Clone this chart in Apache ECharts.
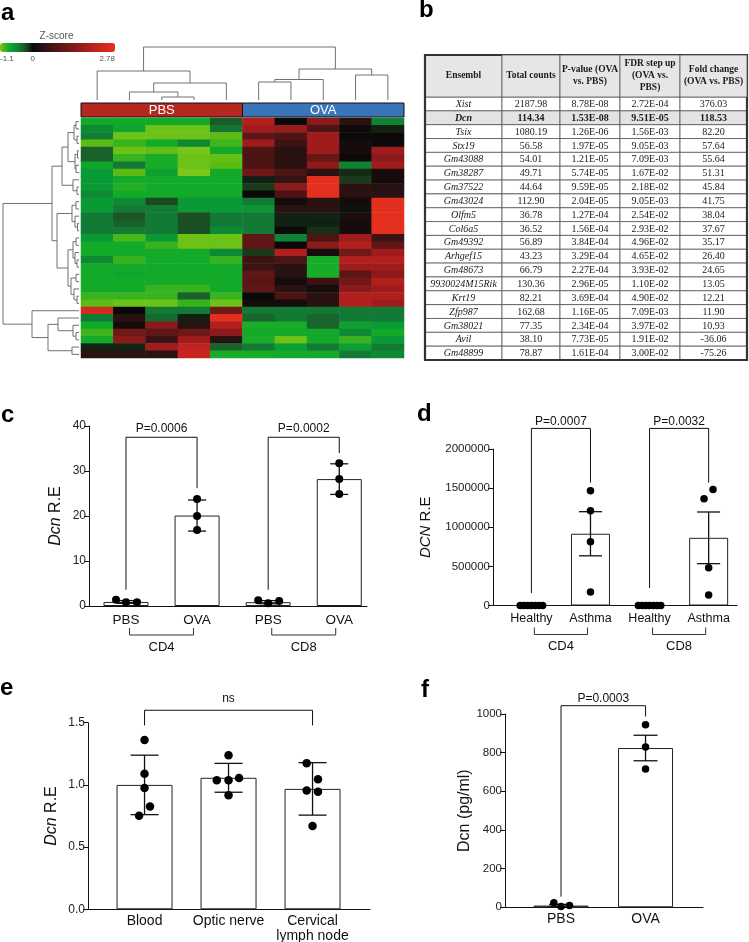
<!DOCTYPE html>
<html><head><meta charset="utf-8">
<script src="https://cdn.jsdelivr.net/npm/echarts@6/dist/echarts.min.js"></script>
<style>html,body{margin:0;padding:0;background:#fff}#c{width:749px;height:942px}</style>
</head><body><div id="c"></div>
<script>
// ===================== DATA =====================
// Panel a – heatmap
const zMin = -1.1, zMax = 2.78;
const zTicks = [-1.1, 0, 2.78];
const zTickLabels = ['-1.1', '0', '2.78'];
const heatGroups = ['PBS', 'OVA'];
const heatGroupSizes = [5, 5];
const sampleNames = ['PBS1','PBS2','PBS3','PBS4','PBS5','OVA1','OVA2','OVA3','OVA4','OVA5'];
const zScores = [
  [-0.8,-0.8,-0.8,-0.8,-0.3, 2.0,0.02,1.5,0.35,-0.5],
  [-0.55,-0.75,-1.05,-1.05,-0.42, 1.75,1.7,0.75,0.08,-0.07],
  [-0.47,-1.05,-1.05,-1.05,-1.0, 0.95,0.8,1.75,0.03,0.02],
  [-1.0,-0.9,-0.8,-0.55,-0.92, 1.75,0.55,1.75,0.15,0.03],
  [-0.33,-1.05,-1.02,-1.08,-0.8, 0.75,0.35,1.75,0.15,1.75],
  [-0.33,-0.9,-0.82,-1.05,-1.03, 0.72,0.35,1.05,0.05,1.5],
  [-0.75,-0.45,-0.82,-1.05,-1.0, 0.75,0.35,1.55,-0.5,1.75],
  [-0.65,-1.0,-0.72,-1.1,-0.8, 1.15,0.75,0.35,-0.1,0.15],
  [-0.65,-0.8,-0.8,-0.8,-0.8, -0.07,0.45,2.7,-0.15,0.12],
  [-0.65,-0.85,-0.8,-0.8,-0.8, -0.15,1.5,2.75,0.35,0.3],
  [-0.55,-0.8,-0.8,-0.8,-0.8, 0.0,0.75,2.7,0.35,0.35],
  [-0.65,-0.55,-0.22,-0.65,-0.65, -0.45,0.15,0.35,0.12,2.7],
  [-0.65,-0.45,-0.45,-0.65,-0.65, -0.62,0.35,0.35,-0.03,2.7],
  [-0.45,-0.28,-0.45,-0.25,-0.45, -0.45,-0.07,-0.08,0.18,2.7],
  [-0.45,-0.32,-0.45,-0.25,-0.45, -0.45,-0.07,-0.07,0.15,2.75],
  [-0.45,-0.45,-0.45,-0.25,-0.55, -0.45,0.0,-0.12,0.15,2.7],
  [-0.65,-0.95,-0.65,-1.05,-1.05, 0.95,-0.5,0.75,1.75,0.55],
  [-0.8,-0.8,-0.9,-1.05,-1.05, 0.95,0.02,1.5,2.0,0.95],
  [-0.8,-0.8,-0.8,-0.8,-0.55, -0.15,2.0,0.15,1.2,1.75],
  [-0.55,-0.9,-0.8,-0.8,-0.9, 0.55,0.75,-0.82,2.0,2.0],
  [-0.8,-0.8,-0.8,-0.8,-0.8, 0.55,0.35,-0.82,1.75,1.75],
  [-0.8,-0.75,-0.8,-0.8,-0.8, 0.95,0.35,-0.82,0.95,1.5],
  [-0.8,-0.8,-0.8,-0.8,-0.8, 0.9,0.15,0.55,1.2,2.0],
  [-0.8,-0.8,-0.9,-0.9,-0.8, 0.95,0.35,0.15,1.5,1.75],
  [-0.9,-0.9,-0.9,-0.33,-0.9, 0.02,0.75,0.35,2.0,2.0],
  [-1.0,-1.05,-1.05,-0.9,-1.05, 0.15,0.15,0.35,2.0,1.75],
  [2.5,0.02,-0.45,-0.45,1.15, -0.45,-0.45,-0.45,-0.45,-0.45],
  [-0.45,0.35,-0.38,-0.07,2.7, -0.35,-0.45,-0.35,-0.45,-0.45],
  [-0.8,0.15,1.5,0.35,2.0, -0.82,-0.82,-0.35,-0.72,-0.65],
  [-0.92,1.2,0.95,1.15,1.5, -0.8,-0.8,-0.78,-0.55,-0.8],
  [-0.8,1.5,0.55,1.75,0.35, -0.82,-1.05,-0.8,-0.9,-0.65],
  [-0.08,-0.08,1.75,2.2,-0.33, -0.45,-0.7,-0.45,-0.7,-0.45],
  [0.35,0.35,0.35,2.3,-0.82, -0.82,-0.8,-0.8,-0.45,-0.55]
];
// dendrograms: [mergeHeight, left, right]; leaves are row / column indices
const rowTree = [76,
  [27,
    [17, [11, [5, [3, 0, 1], [2, 2, 3]], [4, [1.5, 4, 5], [3, 6, 7]]], [6, 8, [2, 9, 10]]],
    [22, [7, [3, 11, 12], [4, 13, [1.5, 14, 15]]],
         [11, [6, [3, 16, 17], [4, 18, [2, 19, 20]]], [8, [3, 21, 22], [5, 23, [2, 24, 25]]]]]],
  [47, 26, [31, [21, 27, [6, 28, [3, 29, 30]]], [7, 31, 32]]]];
const colTree = [53, [29, 0, [17, [8, 1, [3, 2, 3]], 4]], [31, [20.5, [18, 5, 6], 7], [25, 8, 9]]];

// Panel b – table
const tableHeader = ['Ensembl', 'Total counts', 'P-value (OVA\nvs. PBS)', 'FDR step up\n(OVA vs.\nPBS)', 'Fold change\n(OVA vs. PBS)'];
const genes = ['Xist','Dcn','Tsix','Stx19','Gm43088','Gm38287','Gm37522','Gm43024','Olfm5','Col6a5','Gm49392','Arhgef15','Gm48673','9930024M15Rik','Krt19','Zfp987','Gm38021','Avil','Gm48899'];
const totalCounts = [2187.98,114.34,1080.19,56.58,54.01,49.71,44.64,112.90,36.78,36.52,56.89,43.23,66.79,130.36,82.21,162.68,77.35,38.10,78.87];
const pValues = ['8.78E-08','1.53E-08','1.26E-06','1.97E-05','1.21E-05','5.74E-05','9.59E-05','2.04E-05','1.27E-04','1.56E-04','3.84E-04','3.29E-04','2.27E-04','2.96E-05','3.69E-04','1.16E-05','2.34E-04','7.73E-05','1.61E-04'];
const fdrValues = ['2.72E-04','9.51E-05','1.56E-03','9.05E-03','7.09E-03','1.67E-02','2.18E-02','9.05E-03','2.54E-02','2.93E-02','4.96E-02','4.65E-02','3.93E-02','1.10E-02','4.90E-02','7.09E-03','3.97E-02','1.91E-02','3.00E-02'];
const foldChange = [376.03,118.53,82.20,57.64,55.64,51.31,45.84,41.75,38.04,37.67,35.17,26.40,24.65,13.05,12.21,11.90,10.93,-36.06,-75.26];
const highlightGene = 'Dcn';

// Panel c
const cCats = ['PBS','OVA','PBS','OVA'];
const cGroups = ['CD4','CD8'];
const cMeans = [0.9, 20.1, 0.85, 28.2];
const cErr = [0.3, 3.45, 0.35, 3.4];
const cPtCat = [0,0,0, 1,1,1, 2,2,2, 3,3,3];
const cPtOff = [-0.14,0,0.155, 0,0,0, -0.14,0,0.155, 0,0,0];
const cPtVal = [1.4,0.85,0.85, 23.8,20.0,16.9, 1.3,0.6,1.1, 31.7,28.2,24.9];
const cSigText = ['P=0.0006','P=0.0002'];
const cSig = [[0,1,37.5,3.6,26.2],[2,3,37.5,3.6,34]]; // [cat1, cat2, top, end1, end2]

// Panel d
const dCats = ['Healthy','Asthma','Healthy','Asthma'];
const dGroups = ['CD4','CD8'];
const dMeans = [0, 917000, 0, 865000];
const dErr = [0, 282000, 0, 330000];
const dPtCat = [0,0,0,0,0,0,0, 1,1,1,1, 2,2,2,2,2,2,2, 3,3,3,3];
const dPtOff = [-0.19,-0.127,-0.063,0,0.063,0.127,0.19, 0,0,0,0, -0.19,-0.127,-0.063,0,0.063,0.127,0.19, 0.074,-0.078,0,0];
const dPtVal = [0,0,0,0,0,0,0, 1468000,1211000,814000,173000, 0,0,0,0,0,0,0, 1481000,1365000,481000,135000];
const dSigText = ['P=0.0007','P=0.0032'];
const dSig = [[0,1,2263000,160000,1570000],[2,3,2263000,224000,1570000]];

// Panel e
const eCats = ['Blood','Optic nerve','Cervical\nlymph node'];
const eMeans = [1.0, 1.057, 0.968];
const eErr = [0.239, 0.116, 0.211];
const ePtCat = [0,0,0,0,0, 1,1,1,1,1, 2,2,2,2,2];
const ePtOff = [0,0,0,0.065,-0.065, 0,-0.14,0,0.125,0, -0.07,0.065,-0.07,0.065,0];
const ePtVal = [1.36,1.09,0.976,0.827,0.752, 1.239,1.037,1.037,1.056,0.916, 1.175,1.045,0.955,0.945,0.67];
const eSigText = ['ns'];
const eSig = [[0,2,1.60,1.478,1.478]];

// Panel f
const fCats = ['PBS','OVA'];
const fMeans = [9, 824];
const fErr = [6, 66];
const fPtCat = [0,0,0, 1,1,1];
const fPtOff = [-0.085,0,0.1, 0,0,0];
const fPtVal = [24,4,9, 944,829,715];
const fSigText = ['P=0.0003'];
const fSig = [[0,1,1043,55,987]];

// ===================== BUILD =====================
const FONT = '"Liberation Sans", Arial, sans-serif';
const SERIF = '"Liberation Serif", "Times New Roman", serif';
const INK = '#111';
const grids = [], xAxes = [], yAxes = [], series = [];
function addGrid(rect, xa, ya) {
  const i = grids.length;
  grids.push(Object.assign({ containLabel: false, outerBoundsMode: 'none' }, rect));
  xa.gridIndex = i; ya.gridIndex = i; xAxes.push(xa); yAxes.push(ya); return i;
}
function hiddenVal(min, max, inverse) {
  return { type: 'value', show: false, min: min, max: max, inverse: !!inverse, splitLine: { show: false } };
}
function txt(x, y, text, o) {
  return { type: 'text', style: Object.assign({ x: x, y: y, text: text, fill: INK, fontSize: 12, fontFamily: FONT,
    align: 'center', verticalAlign: 'middle', textAlign: 'center', textVerticalAlign: 'middle' }, o || {}) };
}
function buildLinks(node, links) {
  if (typeof node === 'number') return [node + 0.5, 0];
  const A = buildLinks(node[1], links), B = buildLinks(node[2], links);
  links.push([node[0], A[0], B[0], A[1], B[1]]);
  return [(A[0] + B[0]) / 2, node[0]];
}

// ---- colour scale (green - black - red) ----
const anchors = [[-1.1,'#7cc81a'],[-1.0,'#5cbc14'],[-0.8,'#12aa2a'],[-0.65,'#0a9a35'],[-0.45,'#127a35'],[-0.3,'#1c5a28'],[-0.15,'#1a3a1a'],[0,'#080808'],[0.35,'#2a1212'],[0.75,'#4e1414'],[1.2,'#721818'],[1.75,'#a01c1c'],[2.2,'#c02420'],[2.78,'#e8301e']];
function hex2rgb(h){return [parseInt(h.substr(1,2),16),parseInt(h.substr(3,2),16),parseInt(h.substr(5,2),16)];}
function colorAt(v){
  for (let i=0;i<anchors.length-1;i++){
    const a=anchors[i], b=anchors[i+1];
    if (v<=b[0]+1e-9){ const t=Math.max(0,Math.min(1,(v-a[0])/(b[0]-a[0]))); const A=hex2rgb(a[1]),B=hex2rgb(b[1]);
      return 'rgb('+A.map((x,k)=>Math.round(x+(B[k]-x)*t)).join(',')+')'; }
  }
  return anchors[anchors.length-1][1];
}
const NSTOP = 120; const gradColors = [];
for (let i=0;i<NSTOP;i++) gradColors.push(colorAt(zMin + (zMax - zMin) * i / (NSTOP - 1)));

// colour bar tick labels
addGrid({ left: 0, top: 43, width: 115, height: 9 },
  { type: 'value', min: zMin, max: zMax, axisLine: { show: false }, axisTick: { show: false }, splitLine: { show: false },
    axisLabel: { customValues: zTicks, fontSize: 8, color: '#555', margin: 3, fontFamily: FONT, alignMinLabel: 'left', alignMaxLabel: 'right',
      formatter: function (v) { const k = zTicks.findIndex(t => Math.abs(t - v) < 1e-6); return k >= 0 ? zTickLabels[k] : ''; } } },
  hiddenVal(0, 1));

// column dendrogram
const colLinks = []; buildLinks(colTree, colLinks);
const gCol = addGrid({ left: 81, top: 47, width: 323, height: 53 }, hiddenVal(0, 10), hiddenVal(0, 53));
series.push({ type: 'custom', xAxisIndex: gCol, yAxisIndex: gCol, data: colLinks, silent: true, clip: false,
  renderItem: function (p, api) {
    const hp = api.value(0), x1 = api.value(1), x2 = api.value(2), h1 = api.value(3), h2 = api.value(4);
    return { type: 'polyline', shape: { points: [api.coord([x1, h1]), api.coord([x1, hp]), api.coord([x2, hp]), api.coord([x2, h2])] },
      style: { stroke: '#707070', lineWidth: 1, fill: 'none' } };
  } });

// group annotation bar
const groupColors = ['#b4281f', '#3a74b9'];
const gAnn = addGrid({ left: 81, top: 103, width: 323, height: 14 }, hiddenVal(0, 10), hiddenVal(0, 1));
let acc = 0; const annData = heatGroupSizes.map(s => { const d = [acc, acc + s]; acc += s; return d; });
series.push({ type: 'custom', xAxisIndex: gAnn, yAxisIndex: gAnn, data: annData, silent: true, clip: false,
  renderItem: function (p, api) {
    const a = api.coord([api.value(0), 1]), b = api.coord([api.value(1), 0]);
    return { type: 'group', children: [
      { type: 'rect', shape: { x: a[0], y: a[1], width: b[0] - a[0], height: b[1] - a[1] }, style: { fill: groupColors[p.dataIndex], stroke: INK, lineWidth: 1 } },
      txt((a[0] + b[0]) / 2, (a[1] + b[1]) / 2 + 0.5, heatGroups[p.dataIndex], { fill: '#fff', fontSize: 13 })
    ] };
  } });

// heatmap
const rowNames = zScores.map((_, i) => 'gene' + (i + 1));
const gHeat = addGrid({ left: 81, top: 118, width: 323, height: 240 },
  { type: 'category', show: false, data: sampleNames }, { type: 'category', show: false, inverse: true, data: rowNames });
const heatData = []; zScores.forEach((row, r) => row.forEach((v, c) => heatData.push([c, r, v])));
const heatIdx = series.length;
series.push({ type: 'heatmap', xAxisIndex: gHeat, yAxisIndex: gHeat, data: heatData, silent: true, progressive: 0,
  itemStyle: { borderWidth: 0 }, emphasis: { disabled: true } });

// row dendrogram
const rowLinks = []; buildLinks(rowTree, rowLinks);
const gRow = addGrid({ left: 0, top: 118, width: 79, height: 240 }, hiddenVal(0, 79, true), hiddenVal(0, zScores.length, true));
series.push({ type: 'custom', xAxisIndex: gRow, yAxisIndex: gRow, data: rowLinks, silent: true, clip: false,
  renderItem: function (p, api) {
    const hp = api.value(0), y1 = api.value(1), y2 = api.value(2), h1 = api.value(3), h2 = api.value(4);
    return { type: 'polyline', shape: { points: [api.coord([h1, y1]), api.coord([hp, y1]), api.coord([hp, y2]), api.coord([h2, y2])] },
      style: { stroke: '#707070', lineWidth: 1, fill: 'none' } };
  } });

// ---- table (panel b) ----
const colW = [77, 58, 60, 60, 67];
const HEADER_H = 42;
function colX(cs, c) { const tot = colW.reduce((a, b) => a + b, 0); let x = cs.x; for (let i = 0; i < c; i++) x += colW[i] / tot * cs.width; return [x, colW[c] / tot * cs.width]; }
function cellText(r, c) {
  if (c === 0) return genes[r];
  if (c === 1) return totalCounts[r].toFixed(2);
  if (c === 2) return pValues[r];
  if (c === 3) return fdrValues[r];
  return foldChange[r].toFixed(2);
}
const gTab = addGrid({ left: 425, top: 97, width: 322, height: 263 },
  { type: 'category', show: false, data: tableHeader.map((_, i) => 'col' + i) }, { type: 'category', show: false, inverse: true, data: genes });
const tabData = []; genes.forEach((g, r) => tableHeader.forEach((h, c) => tabData.push([c, r])));
series.push({ type: 'custom', xAxisIndex: gTab, yAxisIndex: gTab, data: tabData, silent: true, clip: false, z: 2,
  renderItem: function (p, api) {
    const c = api.value(0), r = api.value(1), cs = p.coordSys;
    const xw = colX(cs, c); const yc = api.coord([c, r])[1]; const h = api.size([1, 1])[1];
    const hl = genes[r] === highlightGene;
    return { type: 'group', children: [
      { type: 'rect', shape: { x: xw[0], y: yc - h / 2, width: xw[1], height: h }, style: { fill: hl ? '#e3e3e3' : '#fff', stroke: '#555', lineWidth: 0.8 } },
      txt(xw[0] + xw[1] / 2, yc + 0.5, cellText(r, c), { fontFamily: SERIF, fontSize: 10, fill: '#1a1a1a',
        fontStyle: c === 0 ? 'italic' : 'normal', fontWeight: hl ? 'bold' : 'normal' })
    ] };
  } });
series.push({ type: 'custom', xAxisIndex: gTab, yAxisIndex: gTab, data: tableHeader.map((_, c) => [c, 0]), silent: true, clip: false, z: 3,
  renderItem: function (p, api) {
    const c = api.value(0), cs = p.coordSys; const xw = colX(cs, c);
    const ch = [
      { type: 'rect', shape: { x: xw[0], y: cs.y - HEADER_H, width: xw[1], height: HEADER_H }, style: { fill: '#e6e6e6', stroke: '#555', lineWidth: 0.8 } },
      txt(xw[0] + xw[1] / 2, cs.y - HEADER_H / 2, tableHeader[c], { fontFamily: SERIF, fontSize: 9.5, fontWeight: 'bold', lineHeight: 12, fill: '#1a1a1a' })
    ];
    if (p.dataIndex === 0) ch.push({ type: 'rect', shape: { x: cs.x, y: cs.y - HEADER_H, width: cs.width, height: cs.height + HEADER_H },
      style: { fill: 'none', stroke: '#333', lineWidth: 2.2 } });
    return { type: 'group', children: ch };
  } });

// ---- statistics panels ----
function statPanel(P) {
  const gi = addGrid({ left: P.left, top: P.top, width: P.width, height: P.height },
    { type: 'value', min: P.xMin, max: P.xMax,
      axisLine: { show: true, onZero: false, lineStyle: { color: INK, width: 1 } }, axisTick: { show: false }, splitLine: { show: false },
      axisLabel: { customValues: P.cats.map((_, i) => i), formatter: function (v) { return P.cats[Math.round(v)]; },
        fontSize: P.xFont, color: INK, margin: P.xMargin, fontFamily: FONT, lineHeight: P.xFont + 0.5 } },
    { type: 'value', min: P.yMin, max: P.yMax, interval: P.yInt,
      axisLine: { show: true, onZero: false, lineStyle: { color: INK, width: 1 } },
      axisTick: { show: true, length: 5, lineStyle: { color: INK, width: 1 } }, splitLine: { show: false },
      axisLabel: { fontSize: P.yFont, color: '#222', margin: 3, fontFamily: FONT, formatter: P.yFmt },
      name: P.yName, nameLocation: 'middle', nameGap: P.nameGap, nameRotate: 90,
      nameTextStyle: { fontSize: P.nameFont, color: INK, fontFamily: FONT,
        rich: { i: { fontStyle: 'italic', fontSize: P.nameFont, color: INK, fontFamily: FONT } } } });
  series.push({ type: 'bar', xAxisIndex: gi, yAxisIndex: gi, data: P.means.map((m, i) => [i, m]), barWidth: P.barW, silent: true, z: 2,
    itemStyle: { color: '#fff', borderColor: '#222', borderWidth: 1 } });
  series.push({ type: 'custom', xAxisIndex: gi, yAxisIndex: gi, silent: true, clip: false, z: 3,
    data: P.means.map((m, i) => [i, m - P.errs[i], m + P.errs[i]]),
    renderItem: function (p, api) {
      const x = api.value(0), lo = api.value(1), hi = api.value(2);
      if (hi - lo <= 0) return null;
      const a = api.coord([x, lo]), b = api.coord([x, hi]), w = P.capW / 2, st = { stroke: INK, lineWidth: 1.3 };
      return { type: 'group', children: [
        { type: 'line', shape: { x1: a[0], y1: a[1], x2: b[0], y2: b[1] }, style: st },
        { type: 'line', shape: { x1: a[0] - w, y1: a[1], x2: a[0] + w, y2: a[1] }, style: st },
        { type: 'line', shape: { x1: b[0] - w, y1: b[1], x2: b[0] + w, y2: b[1] }, style: st } ] };
    } });
  series.push({ type: 'scatter', xAxisIndex: gi, yAxisIndex: gi, silent: true, z: 4, symbol: 'circle', symbolSize: P.dot,
    data: P.ptVal.map((v, k) => [P.ptCat[k] + P.ptOff[k], v]), itemStyle: { color: '#000', opacity: 1 } });
  series.push({ type: 'custom', xAxisIndex: gi, yAxisIndex: gi, silent: true, clip: false, z: 5, data: P.sig,
    renderItem: function (p, api) {
      const x1 = api.value(0), x2 = api.value(1), top = api.value(2), e1 = api.value(3), e2 = api.value(4);
      const A = api.coord([x1, e1]), B = api.coord([x1, top]), C = api.coord([x2, top]), D = api.coord([x2, e2]);
      return { type: 'group', children: [
        { type: 'polyline', shape: { points: [A, B, C, D] }, style: { stroke: INK, lineWidth: 1, fill: 'none' } },
        txt((B[0] + C[0]) / 2, B[1] - P.sigGap, P.sigText[p.dataIndex], { fontSize: P.sigFont }) ] };
    } });
  if (P.groups) {
    series.push({ type: 'custom', xAxisIndex: gi, yAxisIndex: gi, silent: true, clip: false, z: 5,
      data: P.groups.map((g, k) => [2 * k + 0.05, 2 * k + 0.95]),
      renderItem: function (p, api) {
        const a = api.coord([api.value(0), P.yMin]), b = api.coord([api.value(1), P.yMin]); const y = a[1];
        return { type: 'group', children: [
          { type: 'polyline', shape: { points: [[a[0], y + 22], [a[0], y + 29], [b[0], y + 29], [b[0], y + 22]] }, style: { stroke: '#333', lineWidth: 1, fill: 'none' } },
          txt((a[0] + b[0]) / 2, y + 41, P.groups[p.dataIndex], { fontSize: 13 }) ] };
      } });
  }
}
const plain = function (v) { return String(v); };
statPanel({ left: 89, top: 426, width: 278, height: 180, xMin: -0.52, xMax: 3.39, yMin: 0, yMax: 40, yInt: 10, yFmt: plain,
  cats: cCats, groups: cGroups, means: cMeans, errs: cErr, ptCat: cPtCat, ptOff: cPtOff, ptVal: cPtVal, sig: cSig, sigText: cSigText,
  barW: 45, capW: 18, dot: 8, xFont: 13.5, xMargin: 7, yFont: 12, yName: '{i|Dcn} R.E', nameFont: 16, nameGap: 25, sigGap: 9, sigFont: 12 });
statPanel({ left: 493, top: 449, width: 244, height: 156.5, xMin: -0.65, xMax: 3.48, yMin: 0, yMax: 2000000, yInt: 500000, yFmt: plain,
  cats: dCats, groups: dGroups, means: dMeans, errs: dErr, ptCat: dPtCat, ptOff: dPtOff, ptVal: dPtVal, sig: dSig, sigText: dSigText,
  barW: 39, capW: 23, dot: 7.5, xFont: 12.5, xMargin: 7, yFont: 11.5, yName: '{i|DCN} R.E', nameFont: 15, nameGap: 60, sigGap: 7, sigFont: 12 });
statPanel({ left: 88, top: 722.7, width: 282, height: 186.6, xMin: -0.673, xMax: 2.684, yMin: 0, yMax: 1.5, yInt: 0.5,
  yFmt: function (v) { return v.toFixed(1); },
  cats: eCats, groups: null, means: eMeans, errs: eErr, ptCat: ePtCat, ptOff: ePtOff, ptVal: ePtVal, sig: eSig, sigText: eSigText,
  barW: 56, capW: 28, dot: 8.5, xFont: 14, xMargin: 5, yFont: 12, yName: '{i|Dcn} R.E', nameFont: 16, nameGap: 28, sigGap: 12, sigFont: 12 });
statPanel({ left: 505, top: 714, width: 198, height: 193.3, xMin: -0.663, xMax: 1.68, yMin: 0, yMax: 1000, yInt: 200, yFmt: plain,
  cats: fCats, groups: null, means: fMeans, errs: fErr, ptCat: fPtCat, ptOff: fPtOff, ptVal: fPtVal, sig: fSig, sigText: fSigText,
  barW: 55, capW: 24, dot: 7.5, xFont: 14, xMargin: 5, yFont: 11.5, yName: 'Dcn (pg/ml)', nameFont: 16, nameGap: 32, sigGap: 7, sigFont: 12 });

// panel letters and colour-bar title
function letter(x, y, t) {
  return { type: 'text', x: x, y: y, silent: true, style: { text: t, fill: '#000', fontSize: 24, fontWeight: 'bold', fontFamily: FONT,
    align: 'left', verticalAlign: 'middle', textAlign: 'left', textVerticalAlign: 'middle' } };
}
const graphic = [
  letter(1, 13, 'a'), letter(419, 10, 'b'), letter(1, 415, 'c'), letter(417, 414, 'd'), letter(0, 688, 'e'), letter(421, 690, 'f'),
  { type: 'text', x: 56.5, y: 36, silent: true, style: { text: 'Z-score', fill: '#555', fontSize: 10, fontFamily: FONT,
    align: 'center', verticalAlign: 'middle', textAlign: 'center', textVerticalAlign: 'middle' } }
];

const chart = echarts.init(document.getElementById('c'), null, { renderer: 'canvas' });
chart.setOption({
  animation: false, backgroundColor: '#fff',
  grid: grids, xAxis: xAxes, yAxis: yAxes, series: series, graphic: graphic,
  visualMap: [{ type: 'continuous', min: zMin, max: zMax, seriesIndex: heatIdx, dimension: 2, orient: 'horizontal',
    left: 0, top: 43, itemWidth: 9, itemHeight: 115, padding: 0, calculable: false, hoverLink: false, realtime: false,
    inRange: { color: gradColors }, textStyle: { fontSize: 8 } }]
});
</script></body></html>
